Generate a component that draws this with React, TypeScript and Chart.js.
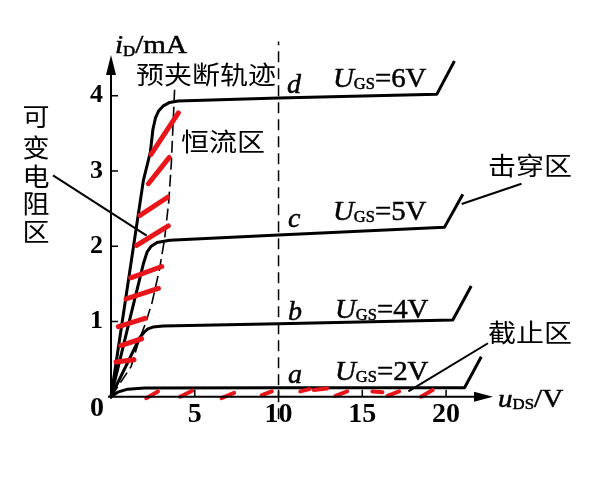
import React, { useEffect, useRef } from 'react';
import { Chart, registerables } from 'chart.js';
Chart.register(...registerables);

type P = [number, number];

const xTickValues = [5, 10, 15, 20];
const yTickValues = [1, 2, 3, 4];

// U_GS = 2 V
const curveA: P[] = [[0, 0], [0.4, 0.06], [1.0, 0.1], [2, 0.115], [10, 0.12], [21.1, 0.12], [22.1, 0.53]];
// U_GS = 4 V
const curveB: P[] = [[0, 0], [1.73, 0.79], [1.95, 0.85], [2.2, 0.9], [2.5, 0.925], [3.12, 0.94], [10, 0.97], [20.4, 1.02], [21.5, 1.47]];
// U_GS = 5 V
const curveC: P[] = [[0, 0], [1.2, 1.1], [1.75, 1.6], [1.95, 1.78], [2.15, 1.92], [2.4, 2.0], [2.75, 2.05], [3.5, 2.08], [10, 2.15], [19.9, 2.25], [21.0, 2.69]];
// U_GS = 6 V
const curveD: P[] = [[0, 0], [1.93, 2.87], [2.35, 3.25], [2.5, 3.55], [2.65, 3.7], [2.85, 3.8], [3.1, 3.86], [3.5, 3.91], [4.0, 3.93], [10, 3.97], [19.45, 4.02], [20.5, 4.46]];
// pre-pinch-off trajectory
const pinchOff: P[] = [[0, 0], [1.2, 0.4], [1.6, 0.7], [2.1, 1.0], [2.45, 1.25], [2.9, 1.7], [3.2, 2.1], [3.45, 2.6], [3.6, 3.1], [3.7, 3.6], [3.8, 4.1]];
// vertical marker at u_DS = 10 V
const marker10: P[] = [[10, -0.3], [10, 4.72]];

// red hatching, variable-resistance region
const hatchOhmic: [P, P][] = [
  [[2.39, 3.22], [4.02, 3.77]],
  [[2.23, 2.83], [3.48, 3.18]],
  [[1.73, 2.41], [3.38, 2.65]],
  [[1.53, 2.01], [3.42, 2.27]],
  [[1.18, 1.58], [3.03, 1.73]],
  [[0.9, 1.3], [2.83, 1.44]],
  [[0.44, 0.93], [2.03, 1.04]],
  [[0.58, 0.68], [1.83, 0.77]],
  [[0.3, 0.46], [1.37, 0.49]],
];
// red dashes, cut-off region
const hatchCutoff: [P, P][] = [
  [[2.1, -0.02], [2.8, 0.07]],
  [[4.12, 0.0], [4.85, 0.08]],
  [[6.6, -0.02], [7.35, 0.05]],
  [[9.0, 0.02], [9.6, 0.07]],
  [[11.3, 0.07], [11.85, 0.1]],
  [[12.1, 0.09], [12.9, 0.11]],
  [[13.4, 0.01], [14.1, 0.07]],
  [[15.6, 0.07], [16.2, 0.06]],
  [[16.5, 0.01], [17.2, 0.07]],
  [[18.5, 0.0], [19.2, 0.09]],
];
// leader lines
const pointerOhmic: P[] = [[-3.46, 2.94], [2.13, 2.14]];
const pointerBreakdown: P[] = [[20.93, 2.56], [24.5, 2.83]];
const pointerCutoff: P[] = [[17.75, 0.07], [22.5, 0.71]];

const SERIF = '"Liberation Serif", "DejaVu Serif", serif';
const CJK = '"Noto Sans CJK SC", sans-serif';

function drawRich(ctx: CanvasRenderingContext2D, x: number, y: number, parts: { t: string; font: string; dy?: number }[], sx = 1) {
  ctx.save();
  ctx.translate(x, y);
  ctx.scale(sx, 1);
  ctx.textAlign = 'left';
  ctx.textBaseline = 'alphabetic';
  ctx.lineWidth = 0.5;
  let cx = 0;
  for (const p of parts) {
    ctx.font = p.font;
    ctx.fillText(p.t, cx, p.dy || 0);
    ctx.strokeText(p.t, cx, p.dy || 0);
    cx += ctx.measureText(p.t).width;
  }
  ctx.restore();
}

function drawCJK(ctx: CanvasRenderingContext2D, text: string, cx: number, cy: number, size: number, sx = 1.12) {
  ctx.save();
  ctx.translate(cx, cy);
  ctx.scale(sx, 1);
  ctx.font = `${size}px ${CJK}`;
  ctx.textAlign = 'center';
  ctx.textBaseline = 'middle';
  ctx.fillText(text, 0, 0);
  ctx.restore();
}

const decorPlugin = {
  id: 'decor',
  afterDatasetsDraw(chart: any) {
    const ctx: CanvasRenderingContext2D = chart.ctx;
    const { left, right, top, bottom } = chart.chartArea;
    const xs = chart.scales.x;
    const ys = chart.scales.y;
    ctx.save();
    ctx.fillStyle = '#000';
    ctx.strokeStyle = '#000';
    ctx.lineWidth = 2;
    // axes
    ctx.beginPath();
    ctx.moveTo(left, bottom + 2);
    ctx.lineTo(left, top + 15);
    ctx.moveTo(left - 3, bottom);
    ctx.lineTo(right - 12, bottom);
    ctx.stroke();
    // arrow heads
    ctx.beginPath();
    ctx.moveTo(left, top);
    ctx.lineTo(left - 5, top + 20);
    ctx.lineTo(left + 5, top + 20);
    ctx.closePath();
    ctx.fill();
    ctx.beginPath();
    ctx.moveTo(right, bottom);
    ctx.lineTo(right - 19, bottom - 5);
    ctx.lineTo(right - 19, bottom + 5);
    ctx.closePath();
    ctx.fill();
    // inward tick marks
    ctx.lineWidth = 1.5;
    ctx.beginPath();
    for (const v of yTickValues) {
      const py = ys.getPixelForValue(v);
      ctx.moveTo(left, py);
      ctx.lineTo(left + 7, py);
    }
    for (const v of xTickValues) {
      const px = xs.getPixelForValue(v);
      ctx.moveTo(px, bottom);
      ctx.lineTo(px, bottom - 7);
    }
    ctx.stroke();

    // origin label
    ctx.font = `bold 28px ${SERIF}`;
    ctx.textAlign = 'center';
    ctx.textBaseline = 'middle';
    ctx.fillText('0', left - 14, bottom + 12);

    // axis titles
    drawRich(ctx, 115, 53, [
      { t: 'i', font: `italic 26px ${SERIF}` },
      { t: 'D', font: `15px ${SERIF}`, dy: 3 },
      { t: '/mA', font: `26px ${SERIF}` },
    ], 1.12);
    drawRich(ctx, 498, 407, [
      { t: 'u', font: `italic 26px ${SERIF}` },
      { t: 'DS', font: `15px ${SERIF}`, dy: 2 },
      { t: '/V', font: `26px ${SERIF}` },
    ], 1.12);

    // curve labels
    const ug = (x: number, y: number, v: string) =>
      drawRich(ctx, x, y, [
        { t: 'U', font: `italic 28px ${SERIF}` },
        { t: 'GS', font: `16px ${SERIF}`, dy: 2 },
        { t: '=' + v, font: `28px ${SERIF}` },
      ], 1.03);
    ug(333, 87, '6V');
    ug(333, 220, '5V');
    ug(335, 318, '4V');
    ug(335, 380, '2V');
    const it = (x: number, y: number, t: string) => drawRich(ctx, x, y, [{ t, font: `italic 28px ${SERIF}` }]);
    it(287, 93, 'd');
    it(288, 227, 'c');
    it(288, 320, 'b');
    it(288, 383, 'a');

    // region labels
    drawCJK(ctx, '预夹断轨迹', 206, 74, 25);
    drawCJK(ctx, '恒流区', 223, 141, 25);
    drawCJK(ctx, '击穿区', 530, 165, 25);
    drawCJK(ctx, '截止区', 530, 332, 25);
    const vchars = ['可', '变', '电', '阻', '区'];
    const vy = [116, 147, 176, 203, 231];
    vchars.forEach((c, i) => drawCJK(ctx, c, 36, vy[i], 25, 1.08));
    ctx.restore();
  },
};

export default function App() {
  const ref = useRef<HTMLCanvasElement>(null);
  useEffect(() => {
    const canvas = ref.current!;
    const pts = (arr: P[]) => arr.map(([x, y]) => ({ x, y }));
    const segs = (pairs: [P, P][]) =>
      pairs.flatMap(([a, b]) => [{ x: a[0], y: a[1] }, { x: b[0], y: b[1] }, { x: b[0], y: null as any }]);
    const line = (data: any[], color: string, width: number, extra: any = {}) => ({
      data,
      borderColor: color,
      backgroundColor: color,
      borderWidth: width,
      pointRadius: 0,
      pointHoverRadius: 0,
      showLine: true,
      fill: false,
      tension: 0,
      clip: false,
      spanGaps: false,
      ...extra,
    });
    const RED = '#e8161b';
    const chart = new Chart(canvas, {
      type: 'scatter',
      data: {
        datasets: [
          line(segs(hatchOhmic), RED, 5, { borderCapStyle: 'round' }),
          line(segs(hatchCutoff), RED, 4, { borderCapStyle: 'round' }),
          line(pts(curveD), '#000', 3, { borderJoinStyle: 'round' }),
          line(pts(curveC), '#000', 3, { borderJoinStyle: 'round' }),
          line(pts(curveB), '#000', 3, { borderJoinStyle: 'round' }),
          line(pts(curveA), '#000', 3, { borderJoinStyle: 'round' }),
          line(pts(pinchOff), '#000', 1.6, { borderDash: [12, 5] }),
          line(pts(marker10), '#000', 1.5, { borderDash: [11, 6] }),
          line(pts(pointerOhmic), '#000', 2),
          line(pts(pointerBreakdown), '#000', 2),
          line(pts(pointerCutoff), '#000', 2),
        ],
      },
      options: {
        responsive: false,
        animation: false,
        devicePixelRatio: 1,
        layout: { padding: { left: 0, right: 119, top: 55, bottom: 0 } },
        plugins: { legend: { display: false }, tooltip: { enabled: false } },
        events: [],
        scales: {
          x: {
            type: 'linear',
            min: 0,
            max: 22.8,
            grid: { display: false, drawTicks: false },
            border: { display: false },
            afterBuildTicks: (s: any) => { s.ticks = xTickValues.map((v) => ({ value: v })); },
            afterFit: (s: any) => { s.height = 88.3; },
            ticks: { color: '#000', font: { family: SERIF, size: 28, weight: 'bold' }, padding: 1, maxRotation: 0, autoSkip: false },
          },
          y: {
            type: 'linear',
            min: 0,
            max: 4.54,
            grid: { display: false, drawTicks: false },
            border: { display: false },
            afterBuildTicks: (s: any) => { s.ticks = yTickValues.map((v) => ({ value: v })); },
            afterFit: (s: any) => { s.width = 111; },
            ticks: { color: '#000', font: { family: SERIF, size: 26, weight: 'bold' }, padding: 8, autoSkip: false },
          },
        },
      } as any,
      plugins: [decorPlugin],
    });
    return () => chart.destroy();
  }, []);
  return (
    <div style={{ position: 'fixed', left: 0, top: 0, width: 612, height: 485, background: '#fff' }}>
      <canvas ref={ref} width={612} height={485} style={{ display: 'block', width: 612, height: 485 }} />
    </div>
  );
}
